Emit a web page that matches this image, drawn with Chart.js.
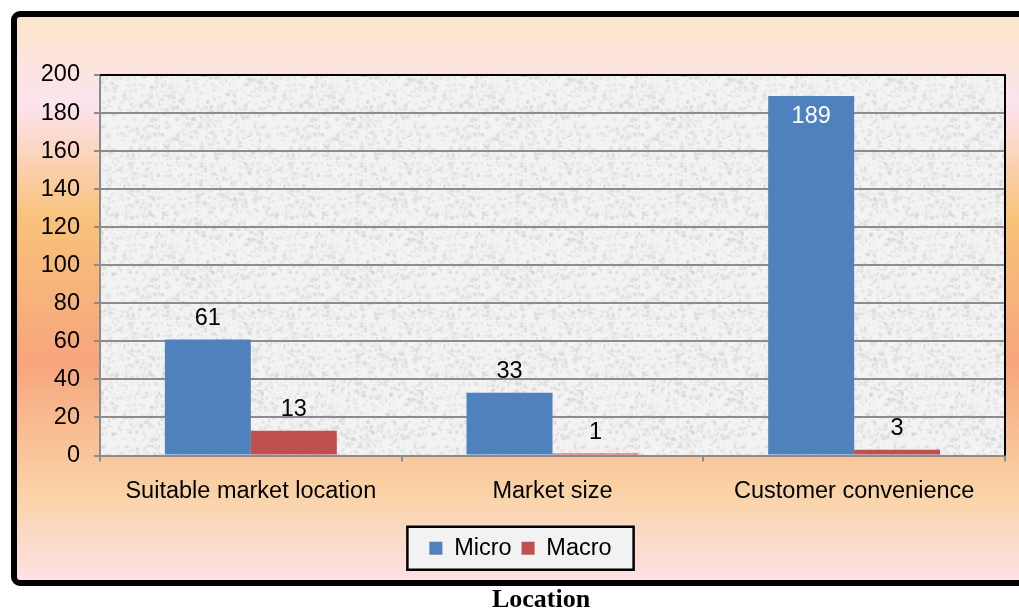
<!DOCTYPE html>
<html>
<head>
<meta charset="utf-8">
<script src="https://cdn.jsdelivr.net/npm/chart.js@4"></script>
<style>
  html, body { margin: 0; padding: 0; background: #ffffff; }
  canvas { display: block; }
</style>
</head>
<body>
<canvas id="chart" width="1019" height="610"></canvas>
<script>
// --- Données du graphique ---
const categories = ['Suitable market location', 'Market size', 'Customer convenience'];
const microValues = [61, 33, 189];
const macroValues = [13, 1, 3];
const yTicks = [0, 20, 40, 60, 80, 100, 120, 140, 160, 180, 200];

const axisGray = '#8c8c8c';
const labelFont = { family: 'Arial, "Liberation Sans", sans-serif', size: 23.5 };

// --- Fond texturé gris (granit) ---
function makeGranite() {
    const c = document.createElement('canvas');
    c.width = 160; c.height = 160;
    const g = c.getContext('2d');
    g.fillStyle = '#f3f3f3';
    g.fillRect(0, 0, 160, 160);
    let seed = 12345;
    const rnd = () => { seed = (seed * 1103515245 + 12345) % 2147483648; return seed / 2147483648; };
    for (let i = 0; i < 2200; i++) {
        const x = rnd() * 160, y = rnd() * 160;
        const v = 185 + Math.floor(rnd() * 60);
        g.fillStyle = `rgba(${v},${v},${v},0.35)`;
        g.fillRect(x, y, 1 + rnd() * 3, 1 + rnd() * 3);
    }
    return c;
}
const granite = makeGranite();

function legendRect(chart) {
    const boxes = chart.legend && chart.legend.legendHitBoxes;
    if (!boxes || !boxes.length) return null;
    const left = Math.min(...boxes.map(b => b.left)) - 22;
    const right = Math.max(...boxes.map(b => b.left + b.width)) + 22;
    const cy = boxes[0].top + boxes[0].height / 2;
    return { x: left, y: cy - 21.5, w: right - left, h: 43 };
}

// --- Cadre, dégradé et fond de la zone de tracé ---
const framePlugin = {
    id: 'frame',
    beforeDraw(chart) {
        const ctx = chart.ctx;
        const a = chart.chartArea;
        ctx.save();
        const grad = ctx.createLinearGradient(0, 12, 0, 585);
        grad.addColorStop(0.0, '#fbe6c8');
        grad.addColorStop(0.16, '#fde3ef');
        grad.addColorStop(0.36, '#f8c27a');
        grad.addColorStop(0.61, '#f7a57c');
        grad.addColorStop(0.84, '#fad3a6');
        grad.addColorStop(1.0, '#fde2e8');
        ctx.beginPath();
        ctx.roundRect(14, 14, 1040, 569, 6);
        ctx.fillStyle = grad;
        ctx.fill();
        ctx.lineWidth = 6;
        ctx.strokeStyle = '#000000';
        ctx.stroke();
        ctx.fillStyle = ctx.createPattern(granite, 'repeat');
        ctx.fillRect(a.left, a.top, a.right - a.left, a.bottom - a.top);

        // fond clair de la légende
        const r = legendRect(chart);
        if (r) {
            ctx.fillStyle = '#f2f2f2';
            ctx.fillRect(r.x, r.y, r.w, r.h);
        }
        ctx.restore();
    },
    afterDraw(chart) {
        const ctx = chart.ctx;
        const a = chart.chartArea;
        ctx.save();
        // bord haut et droit en noir
        ctx.strokeStyle = '#000000';
        ctx.lineWidth = 2;
        ctx.beginPath();
        ctx.moveTo(a.left, a.top);
        ctx.lineTo(a.right, a.top);
        ctx.lineTo(a.right, a.bottom);
        ctx.stroke();

        // bordure de la légende
        const r = legendRect(chart);
        if (r) {
            ctx.lineWidth = 2.5;
            ctx.strokeRect(r.x, r.y, r.w, r.h);
        }

        // titre de l'axe
        ctx.fillStyle = '#000000';
        ctx.font = 'bold 26px "Liberation Serif", "Times New Roman", serif';
        ctx.textAlign = 'center';
        ctx.textBaseline = 'middle';
        ctx.fillText('Location', 541, 600);
        ctx.restore();
    }
};

// --- Étiquettes de valeurs ---
const valueLabels = {
    id: 'valueLabels',
    afterDatasetsDraw(chart) {
        const ctx = chart.ctx;
        const top = chart.chartArea.top;
        ctx.save();
        ctx.font = `${labelFont.size}px ${labelFont.family}`;
        ctx.textAlign = 'center';
        ctx.textBaseline = 'middle';
        chart.data.datasets.forEach((ds, i) => {
            chart.getDatasetMeta(i).data.forEach((bar, j) => {
                const v = ds.data[j];
                if (bar.y - 40 < top) {
                    ctx.fillStyle = '#ffffff';
                    ctx.fillText(v, bar.x, bar.y + 21);
                } else {
                    ctx.fillStyle = '#000000';
                    ctx.fillText(v, bar.x, bar.y - 21);
                }
            });
        });
        ctx.restore();
    }
};

new Chart(document.getElementById('chart'), {
    type: 'bar',
    data: {
        labels: categories,
        datasets: [
            { label: 'Micro', data: microValues, backgroundColor: '#4f81bd' },
            { label: 'Macro', data: macroValues, backgroundColor: '#c0504d' }
        ]
    },
    options: {
        responsive: false,
        animation: false,
        datasets: { bar: { categoryPercentage: 0.57, barPercentage: 1.0 } },
        layout: { padding: { left: 36, right: 14, top: 75, bottom: 40 } },
        plugins: {
            legend: {
                position: 'bottom',
                labels: {
                    color: '#000000',
                    font: labelFont,
                    boxWidth: 13,
                    boxHeight: 13,
                    padding: 10
                }
            },
            title: { display: false },
            tooltip: { enabled: false }
        },
        scales: {
            x: {
                afterFit: s => { s.height = 71; },
                grid: {
                    drawOnChartArea: false,
                    drawTicks: true,
                    tickLength: 6,
                    color: axisGray,
                    lineWidth: 2
                },
                border: { color: axisGray, width: 2 },
                ticks: { color: '#000000', font: labelFont, padding: 16, maxRotation: 0 }
            },
            y: {
                min: 0,
                max: 200,
                afterFit: s => { s.width = 64; },
                afterBuildTicks: s => { s.ticks = yTicks.map(v => ({ value: v })); },
                grid: {
                    color: axisGray,
                    lineWidth: 2,
                    tickLength: 6
                },
                border: { color: axisGray, width: 2 },
                ticks: { color: '#000000', font: labelFont, padding: 14 }
            }
        }
    },
    plugins: [framePlugin, valueLabels]
});
</script>
</body>
</html>
